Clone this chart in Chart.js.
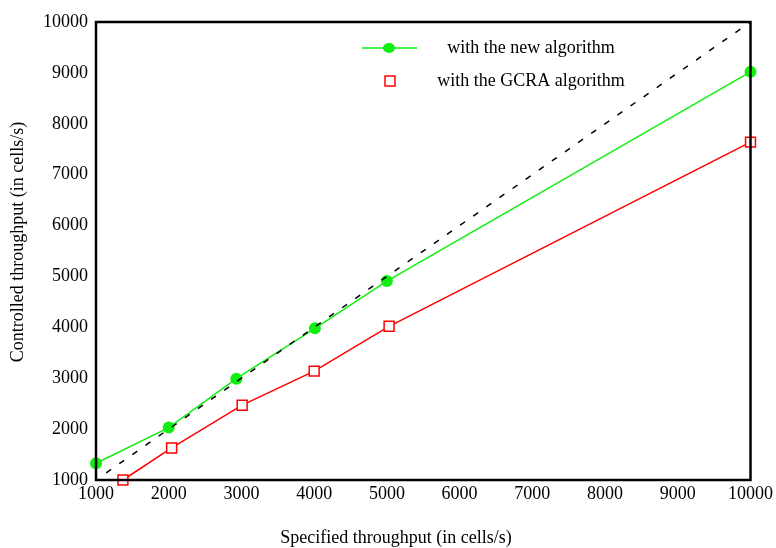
<!DOCTYPE html>
<html>
<head>
<meta charset="utf-8">
<script src="https://cdn.jsdelivr.net/npm/chart.js@4"></script>
<style>
  html, body { margin: 0; padding: 0; background: #fff; }
  #wrap { width: 776px; height: 548px; }
</style>
</head>
<body>
<div id="wrap"><canvas id="chart" width="776" height="548"></canvas></div>
<script>
// Data
const newAlgoX = [1000, 2000, 2930, 4010, 5000, 10000];
const newAlgoY = [1330, 2030, 2990, 3980, 4910, 9020];
const gcraX = [1370, 2040, 3010, 4000, 5030, 10000];
const gcraY = [1000, 1630, 2470, 3140, 4020, 7640];
const idealX = [1140, 10000];
const idealY = [1140, 10000];
const xTicks = [1000, 2000, 3000, 4000, 5000, 6000, 7000, 8000, 9000, 10000];
const yTicks = [1000, 2000, 3000, 4000, 5000, 6000, 7000, 8000, 9000, 10000];
const seriesNames = ['with the new algorithm', 'with the GCRA algorithm'];
const xTitle = 'Specified throughput (in cells/s)';
const yTitle = 'Controlled throughput (in cells/s)';

const FONT = '"Liberation Serif", "Times New Roman", serif';
const GREEN = '#11ee11';
const RED = '#ff0000';

function pts(xs, ys) {
    return xs.map(function(x, i) { return { x: x, y: ys[i] }; });
}

// Frame, legend and axis titles drawn on top of the chart
const decorPlugin = {
    id: 'decor',
    afterDraw: function(chart) {
        const ctx = chart.ctx;
        const a = chart.chartArea;
        ctx.save();
        ctx.strokeStyle = '#000';
        ctx.lineWidth = 2.5;
        ctx.strokeRect(a.left, a.top, a.right - a.left, a.bottom - a.top);

        // legend
        ctx.font = '18px ' + FONT;
        ctx.fillStyle = '#000';
        ctx.textAlign = 'center';
        ctx.textBaseline = 'middle';
        ctx.fillText(seriesNames[0], 531, 48);
        ctx.fillText(seriesNames[1], 531, 81);

        ctx.strokeStyle = GREEN;
        ctx.lineWidth = 1.5;
        ctx.beginPath();
        ctx.moveTo(362, 48);
        ctx.lineTo(417, 48);
        ctx.stroke();
        ctx.fillStyle = GREEN;
        ctx.beginPath();
        ctx.ellipse(389, 48, 6, 5, 0, 0, Math.PI * 2);
        ctx.fill();

        ctx.fillStyle = '#fff';
        ctx.strokeStyle = RED;
        ctx.lineWidth = 1.5;
        ctx.fillRect(385, 76, 10, 10);
        ctx.strokeRect(385, 76, 10, 10);

        // axis titles
        ctx.fillStyle = '#000';
        ctx.fillText(xTitle, 396, 538);
        ctx.translate(18, 242);
        ctx.rotate(-Math.PI / 2);
        ctx.fillText(yTitle, 0, 0);
        ctx.restore();
    }
};

const ctx = document.getElementById('chart').getContext('2d');
new Chart(ctx, {
    type: 'scatter',
    data: {
        datasets: [
            {
                label: 'ideal',
                data: pts(idealX, idealY),
                showLine: true,
                borderColor: '#000',
                borderWidth: 1.5,
                borderDash: [6, 10],
                pointRadius: 0
            },
            {
                label: seriesNames[0],
                data: pts(newAlgoX, newAlgoY),
                showLine: true,
                borderColor: GREEN,
                backgroundColor: GREEN,
                borderWidth: 1.5,
                pointStyle: 'circle',
                pointRadius: 6,
                pointBorderWidth: 0
            },
            {
                label: seriesNames[1],
                data: pts(gcraX, gcraY),
                showLine: true,
                borderColor: RED,
                backgroundColor: RED,
                borderWidth: 1.5,
                pointStyle: 'rect',
                pointRadius: 7,
                pointBorderWidth: 1.5,
                pointBackgroundColor: '#fff',
                pointBorderColor: RED
            }
        ]
    },
    options: {
        responsive: false,
        animation: false,
        clip: false,
        layout: {
            padding: { left: 0, right: 25, top: 22, bottom: 0 }
        },
        plugins: {
            legend: { display: false },
            tooltip: { enabled: false }
        },
        scales: {
            x: {
                type: 'linear',
                min: 1000,
                max: 10000,
                afterBuildTicks: function(scale) {
                    scale.ticks = xTicks.map(function(v) { return { value: v }; });
                },
                grid: { display: false, drawTicks: false },
                border: { display: false },
                ticks: {
                    color: '#000',
                    font: { family: FONT, size: 18 },
                    padding: 3,
                    maxRotation: 0,
                    autoSkip: false,
                    callback: function(v) { return String(v); }
                },
                afterFit: function(scale) { scale.height = 68; }
            },
            y: {
                type: 'linear',
                min: 1000,
                max: 10000,
                afterBuildTicks: function(scale) {
                    scale.ticks = yTicks.map(function(v) { return { value: v }; });
                },
                grid: { display: false, drawTicks: false },
                border: { display: false },
                ticks: {
                    color: '#000',
                    font: { family: FONT, size: 18 },
                    padding: 8,
                    autoSkip: false,
                    callback: function(v) { return String(v); }
                },
                afterFit: function(scale) { scale.width = 96; }
            }
        }
    },
    plugins: [decorPlugin]
});
</script>
</body>
</html>
